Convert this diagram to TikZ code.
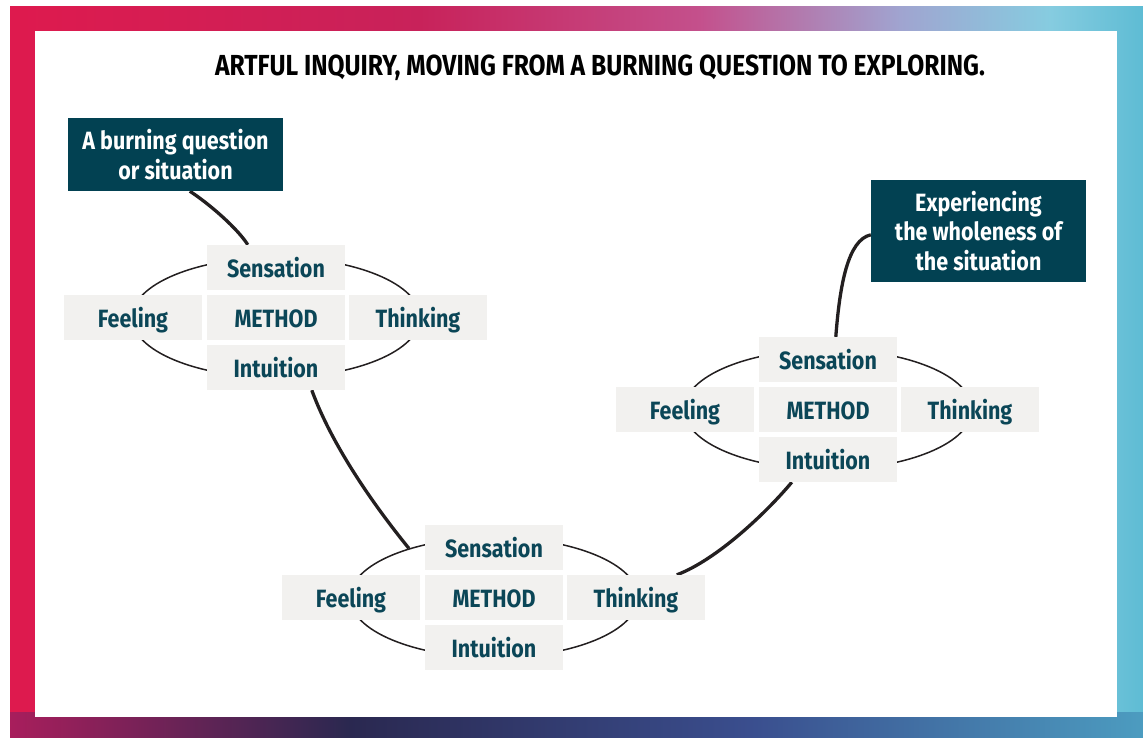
\documentclass[tikz,border=0pt]{standalone}
\usepackage{fontspec}
\setmainfont{Fira Sans}[FakeStretch=0.86]
\usetikzlibrary{calc,shapes.geometric}
\definecolor{darkteal}{HTML}{024152}
\definecolor{boxgray}{HTML}{F2F1EF}
\definecolor{labeltxt}{HTML}{0B4657}
\definecolor{linec}{HTML}{231F20}
\definecolor{bgA}{HTML}{DE1A4E}
\definecolor{bgB}{HTML}{C8225A}
\definecolor{bgC}{HTML}{C4508C}
\definecolor{bgD}{HTML}{A0A4D0}
\definecolor{bgE}{HTML}{86CCE0}
\definecolor{bgF}{HTML}{5EBCD4}
\definecolor{btA}{HTML}{A81E5C}
\definecolor{btB}{HTML}{2A2850}
\definecolor{btC}{HTML}{3A4E8E}
\definecolor{btD}{HTML}{4C9CC0}
\pgfdeclarelayer{framelayer}
\pgfdeclarelayer{linklayer}
\pgfsetlayers{framelayer,linklayer,main}
\tikzset{
  cell/.style={fill=boxgray, minimum width=138pt, minimum height=45pt, inner sep=0pt,
    text height=24pt, text depth=5pt,
    text=labeltxt, font=\bfseries\fontsize{25}{28}\selectfont},
  darkbox/.style={fill=darkteal, text=white, align=center, inner sep=0pt,
    font=\bfseries\fontsize{25}{29.5}\selectfont},
  ring/.style={draw=linec, line width=1.5pt, ellipse, minimum width=288pt, minimum height=120pt, inner sep=0pt},
  link/.style={draw=linec, line width=3.3pt}
}
\newcommand{\methodcluster}[3]{%
  \node[ring] (#1e) at (#2,#3) {};
  \node[cell] (#1m) at (#2,#3) {METHOD};
  \node[cell] (#1s) at (#2,#3-50) {Sensation};
  \node[cell] (#1i) at (#2,#3+50) {Intuition};
  \node[cell] (#1f) at (#2-143,#3) {Feeling};
  \node[cell] (#1t) at (#2+142,#3) {Thinking};
}
\begin{document}
\begin{tikzpicture}[x=1pt,y=-1pt]
\useasboundingbox (0,0) rectangle (1143,738);
\begin{pgfonlayer}{framelayer}
\fill[left color=bgA, right color=bgB] (10,7) rectangle (420,738);
\fill[left color=bgB, right color=bgC] (419.5,7) rectangle (700,738);
\fill[left color=bgC, right color=bgD] (699.5,7) rectangle (900,738);
\fill[left color=bgD, right color=bgE] (899.5,7) rectangle (1050,738);
\fill[left color=bgE, right color=bgF] (1049.5,7) rectangle (1143,738);
\fill[left color=btA, right color=btB] (10,712) rectangle (350,738);
\fill[left color=btB, right color=btC] (349.5,712) rectangle (750,738);
\fill[left color=btC, right color=btD] (749.5,712) rectangle (1143,738);
\fill[white] (35,31) rectangle (1117,717);
\end{pgfonlayer}
% title
\node[anchor=base, font=\bfseries\fontsize{29}{32}\selectfont\addfontfeature{FakeStretch=0.85}] (title) at (600,76)
  {ARTFUL INQUIRY, MOVING FROM A BURNING QUESTION TO EXPLORING.};
% top boxes
\node[darkbox, minimum width=215pt, minimum height=73pt] (q1) at (175.5,154.5)
  {A burning question\\or situation};
\node[darkbox, minimum width=215pt, minimum height=102pt] (q2) at (978.5,231)
  {Experiencing\\the wholeness of\\the situation};
% clusters
\methodcluster{a}{276}{317.5}
\methodcluster{b}{494}{597.5}
\methodcluster{c}{828}{409.5}
% connectors
\begin{pgfonlayer}{linklayer}
\draw[link] ($(q1.south west)+(122,0)$) .. controls +(20,13) and +(-10,-16) .. ($(as.north west)+(41,0)$);
\draw[link] ($(ai.south west)+(105,0)$) .. controls +(20,55) and +(-35,-43) .. (be.150);
\draw[link] ($(bt.north west)+(110,0)$) .. controls +(40,-15) and +(-25,30) .. ($(ci.south west)+(33,0)$);
\draw[link] ($(cs.north west)+(77,0)$) .. controls +(4,-52) and +(-23,5) .. ($(q2.north west)+(0,55)$);
\end{pgfonlayer}
\end{tikzpicture}
\end{document}
